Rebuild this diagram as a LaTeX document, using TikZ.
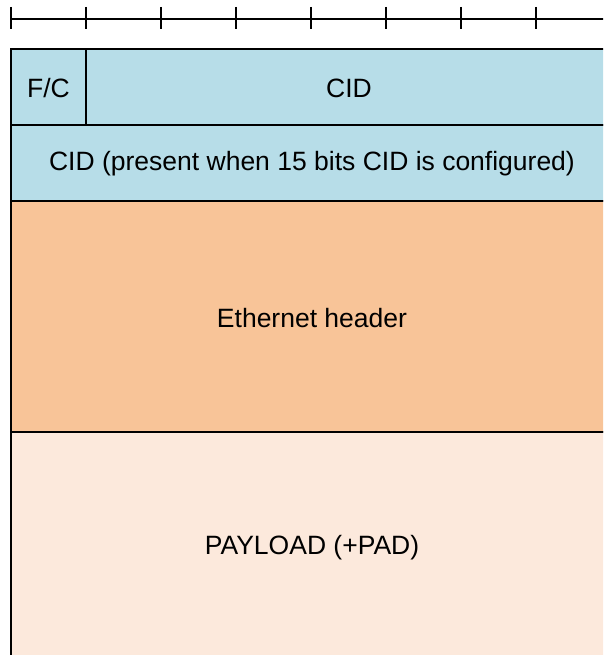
\documentclass[tikz,border=0pt]{standalone}
\usepackage{fontspec}
\setmainfont{Liberation Sans}
\definecolor{cidblue}{RGB}{183,221,232}
\definecolor{ethorange}{RGB}{248,196,152}
\definecolor{payload}{RGB}{252,233,220}
\tikzset{
  field/.style={draw=black, line width=1.8pt},
  lbl/.style={font=\fontsize{26.5}{30}\selectfont, text=black},
  tick/.style={line width=1.4pt},
}
\begin{document}
\begin{tikzpicture}[x=1pt,y=-1pt]
\useasboundingbox (0,0) rectangle (603,655);
\clip (0,0) rectangle (603,655);
% ruler
\coordinate (r0) at (11,19);
\coordinate (r1) at (620,19);
\draw[line width=1.2pt] (r0) -- (r1);
\foreach \i in {0,...,7} {
  \draw[tick] (11+75*\i,7) -- (11+75*\i,29);
}
% fields
\draw[field, fill=cidblue] (11,49) rectangle (620,125);
\draw[field] (86,49) -- (86,125);
\draw[field, fill=cidblue] (11,125) rectangle (620,201);
\draw[field, fill=ethorange] (11,201) rectangle (620,432);
\draw[field, fill=payload] (11,432) rectangle (620,680);
\node[lbl] (fc) at (48.5,88) {F/C};
\node[lbl] (cid) at (349,88) {CID};
\node[lbl] (cid2) at (312,164) {CID (present when 15 bits CID is configured)};
\node[lbl] (eth) at (312,318) {Ethernet header};
\node[lbl] (pl) at (312,548) {PAYLOAD (+PAD)};
\end{tikzpicture}
\end{document}
